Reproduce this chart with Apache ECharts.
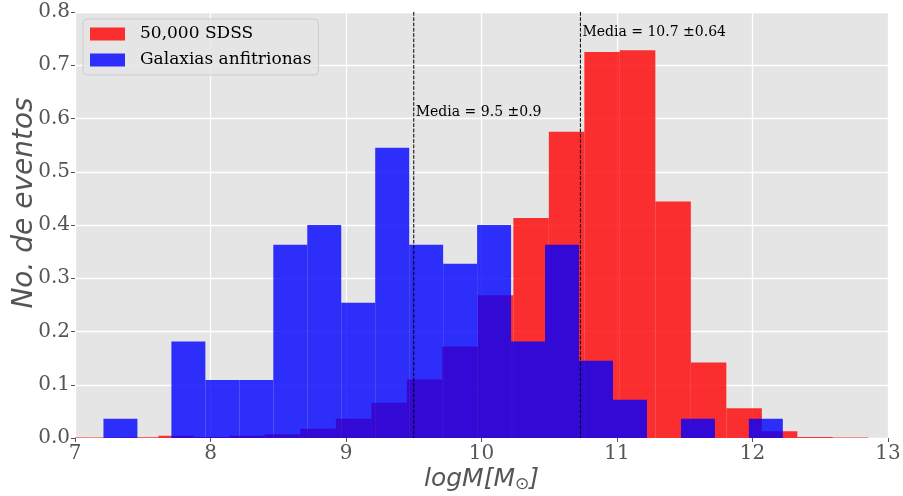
<!DOCTYPE html>
<html>
<head>
<meta charset="utf-8">
<script src="https://cdn.jsdelivr.net/npm/echarts@6/dist/echarts.min.js"></script>
<style>
html,body{margin:0;padding:0;background:#fff;}
#chart{width:903px;height:496px;}
</style>
</head>
<body>
<div id="chart"></div>
<script>
// ---- data ----
const sdssStart = 6.829;
const sdssWidth = 0.262;
const sdssValues = [0.001, 0.001, 0.0015, 0.004, 0.002, 0.004, 0.007, 0.0175, 0.036, 0.066, 0.110, 0.172, 0.268, 0.413, 0.575, 0.725, 0.728, 0.444, 0.142, 0.056, 0.0125, 0.002, 0.001];

const hostStart = 7.21;
const hostWidth = 0.2507;
const hostValues = [0.036, 0, 0.181, 0.109, 0.109, 0.363, 0.400, 0.254, 0.545, 0.363, 0.327, 0.400, 0.181, 0.363, 0.145, 0.072, 0, 0.036, 0, 0.036];

const seriesNames = ['50,000 SDSS', 'Galaxias anfitrionas'];
const medianX = [9.5, 10.73];
const medianLabels = ['Media = 9.5 \u00b10.9', 'Media = 10.7 \u00b10.64'];
const medianLabelY = [0.611, 0.761];

const xTicks = [7, 8, 9, 10, 11, 12, 13];
const yTicks = [0.0, 0.1, 0.2, 0.3, 0.4, 0.5, 0.6, 0.7, 0.8];

function toBins(start, width, values) {
  return values.map((v, i) => [start + i * width, start + (i + 1) * width, v]);
}
const sdssBins = toBins(sdssStart, sdssWidth, sdssValues);
const hostBins = toBins(hostStart, hostWidth, hostValues);

const chart = echarts.init(document.getElementById('chart'), null, {renderer: 'canvas'});

function histRender(color) {
  return function (params, api) {
    const x0 = api.value(0), x1 = api.value(1), v = api.value(2);
    if (!(v > 0)) return null;
    const p0 = api.coord([x0, v]);
    const p1 = api.coord([x1, 0]);
    const rect = echarts.graphic.clipRectByRect(
      {x: p0[0], y: p0[1], width: p1[0] - p0[0], height: p1[1] - p0[1]},
      {x: params.coordSys.x, y: params.coordSys.y, width: params.coordSys.width, height: params.coordSys.height}
    );
    if (!rect) return null;
    return {type: 'rect', shape: rect, style: {fill: color}};
  };
}

const sansTick = {fontFamily: 'DejaVu Serif', fontSize: 20, color: '#555555'};

const option = {
  animation: false,
  backgroundColor: '#ffffff',
  grid: {left: 75, right: 15, top: 12, bottom: 58, show: true, backgroundColor: '#E5E5E5', borderWidth: 0,
         containLabel: false, outerBoundsMode: 'none'},
  legend: {
    left: 83, top: 19, orient: 'vertical',
    data: [
      {name: seriesNames[0], icon: 'rect', itemStyle: {color: 'rgba(255,0,0,0.8)'}},
      {name: seriesNames[1], icon: 'rect', itemStyle: {color: 'rgba(0,0,255,0.8)'}}
    ],
    itemWidth: 35, itemHeight: 13, itemGap: 6,
    padding: [5, 7, 5, 7],
    backgroundColor: 'rgba(229,229,229,0.8)', borderColor: '#cccccc', borderWidth: 1, borderRadius: 4,
    textStyle: {fontFamily: 'DejaVu Serif', fontSize: 17, color: '#000', lineHeight: 20, padding: [0, 0, 0, 10]}
  },
  xAxis: {
    type: 'value', min: 7, max: 13, interval: 1,
    name: '{a|logM[M}{b|\u2299}{a|]}', nameLocation: 'middle', nameGap: 28, nameMoveOverlap: false,
    nameTextStyle: {rich: {
      a: {fontFamily: 'DejaVu Sans', fontStyle: 'italic', fontSize: 25, color: '#555555'},
      b: {fontFamily: 'DejaVu Sans', fontSize: 17, color: '#555555', verticalAlign: 'bottom', padding: [10, 0, 0, 0]}
    }},
    axisLine: {show: false},
    axisTick: {show: true, length: 4, inside: false, lineStyle: {color: '#555555'}},
    axisLabel: Object.assign({margin: 6, formatter: v => String(v)}, sansTick),
    splitLine: {show: true, lineStyle: {color: '#ffffff', width: 1.3}}
  },
  yAxis: {
    type: 'value', min: 0, max: 0.8, interval: 0.1,
    name: 'No. de eventos', nameLocation: 'middle', nameGap: 36, nameRotate: 90, nameMoveOverlap: false,
    nameTextStyle: {fontFamily: 'DejaVu Sans', fontStyle: 'italic', fontSize: 28, color: '#555555', padding: [0, 0, 0, 44]},
    axisLine: {show: false},
    axisTick: {show: true, length: 4, lineStyle: {color: '#555555'}},
    axisLabel: Object.assign({margin: 5, formatter: v => v.toFixed(1)}, sansTick),
    splitLine: {show: true, lineStyle: {color: '#ffffff', width: 1.3}}
  },
  series: [
    {
      name: seriesNames[0], type: 'custom', data: sdssBins,
      itemStyle: {color: 'rgba(255,0,0,0.8)'},
      encode: {x: [0, 1], y: 2},
      renderItem: histRender('rgba(255,0,0,0.8)'), z: 2
    },
    {
      name: seriesNames[1], type: 'custom', data: hostBins,
      itemStyle: {color: 'rgba(0,0,255,0.8)'},
      encode: {x: [0, 1], y: 2},
      renderItem: histRender('rgba(0,0,255,0.8)'), z: 3
    },
    {
      name: 'median', type: 'custom',
      data: medianX.map((x, i) => [x, medianLabelY[i]]),
      encode: {x: 0, y: 1},
      z: 4,
      renderItem: function (params, api) {
        const x = api.value(0);
        const top = api.coord([x, 0.8]);
        const bot = api.coord([x, 0]);
        const lp = api.coord([x, api.value(1)]);
        return {
          type: 'group',
          children: [
            {type: 'line', shape: {x1: top[0], y1: top[1], x2: bot[0], y2: bot[1]},
             style: {stroke: '#000000', lineWidth: 1, lineDash: [3.7, 1.6]}},
            {type: 'text', x: lp[0] + 2, y: lp[1],
             style: {text: medianLabels[params.dataIndex], fill: '#000', font: '14px "DejaVu Serif"', verticalAlign: 'middle', align: 'left'}}
          ]
        };
      }
    }
  ]
};
chart.setOption(option);
</script>
</body>
</html>
